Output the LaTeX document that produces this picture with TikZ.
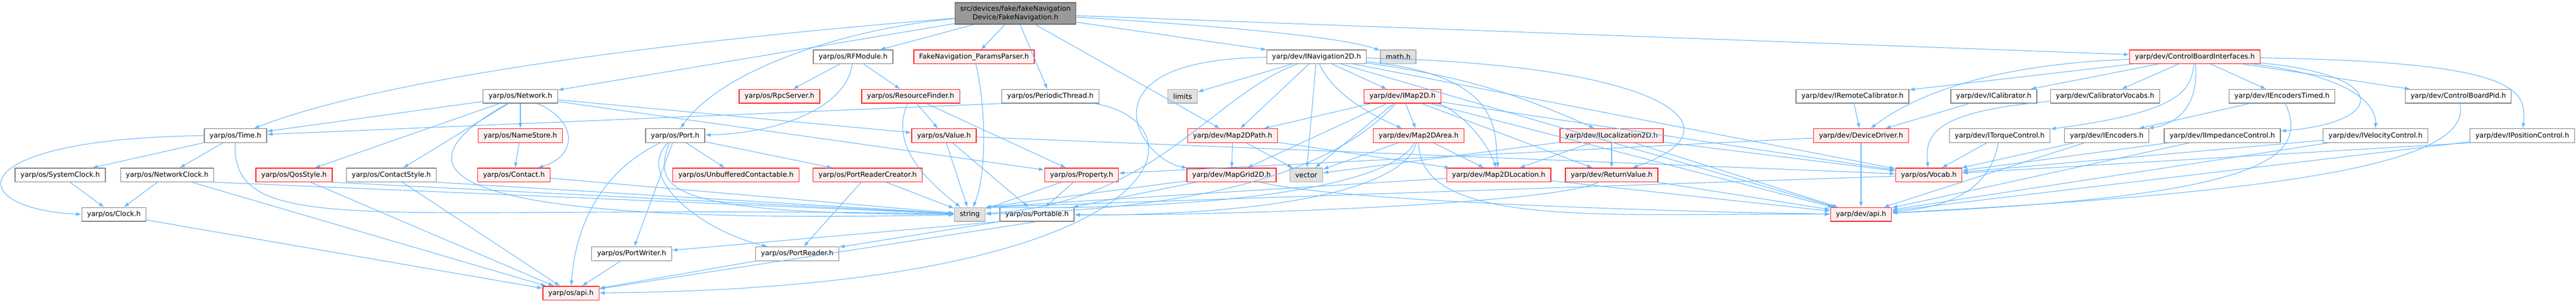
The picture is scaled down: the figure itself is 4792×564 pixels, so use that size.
\documentclass[tikz,border=0pt]{standalone}
\usepackage{fontspec}
\setmainfont{DejaVu Sans}
\usepackage{xcolor}
\usetikzlibrary{arrows.meta}
\definecolor{e1}{HTML}{63B8FF}
\definecolor{r1}{HTML}{FF1A1A}
\definecolor{p1}{HTML}{FFF0F0}
\definecolor{g1}{HTML}{999999}
\definecolor{g2}{HTML}{E0E0E0}
\definecolor{g3}{HTML}{666666}
\definecolor{g4}{HTML}{808080}
\tikzstyle{hdr}=[draw=g4,fill=white,line width=1.3pt,minimum height=25.5pt,inner xsep=10pt,inner ysep=0pt,font=\fontsize{12.9}{15.4}\selectfont]
\tikzstyle{red hdr}=[hdr,draw=r1,fill=p1]
\tikzstyle{sys hdr}=[hdr,draw=g1!80,fill=g2]
\tikzstyle{main hdr}=[hdr,draw=g3,fill=g1,align=center,minimum height=40pt]
\tikzstyle{incl}=[e1,line width=1.1pt,-{Latex[length=10pt,width=7pt]}]

\begin{document}
\begin{tikzpicture}[x=1pt,y=-1pt]
  \useasboundingbox (0,0) rectangle (4792,564);
  \def\ya{105.9}
  \def\yb{179.2}
  \def\yc{252.5}
  \def\yd{325.8}
  \def\ye{399.1}
  \def\yf{472.4}
  \def\yg{545.7}
  \node[main hdr] (main) at (1889,25) {src/devices/fake/fakeNavigation\\Device/FakeNavigation.h};
  % row 1
  \node[hdr] (rfmod) at (1587,\ya) {yarp/os/RFModule.h};
  \node[red hdr] (params) at (1812,\ya) {FakeNavigation\_ParamsParser.h};
  \node[hdr] (inav) at (2449,\ya) {yarp/dev/INavigation2D.h};
  \node[sys hdr] (mathh) at (2601,\ya) {math.h};
  \node[red hdr] (cbi) at (4083,\ya) {yarp/dev/ControlBoardInterfaces.h};
  % row 2
  \node[hdr] (network) at (968,\yb) {yarp/os/Network.h};
  \node[red hdr] (rpc) at (1450,\yb) {yarp/os/RpcServer.h};
  \node[red hdr] (resfind) at (1694,\yb) {yarp/os/ResourceFinder.h};
  \node[hdr] (periodic) at (1954,\yb) {yarp/os/PeriodicThread.h};
  \node[sys hdr] (limits) at (2200,\yb) {limits};
  \node[red hdr] (imap) at (2609,\yb) {yarp/dev/IMap2D.h};
  \node[hdr] (iremcal) at (3446,\yb) {yarp/dev/IRemoteCalibrator.h};
  \node[hdr] (ical) at (3709,\yb) {yarp/dev/ICalibrator.h};
  \node[hdr] (calvoc) at (3916,\yb) {yarp/dev/CalibratorVocabs.h};
  \node[hdr] (enctimed) at (4245,\yb) {yarp/dev/IEncodersTimed.h};
  \node[hdr] (cbpid) at (4573,\yb) {yarp/dev/ControlBoardPid.h};
  % row 3
  \node[hdr] (time) at (438,\yc) {yarp/os/Time.h};
  \node[red hdr] (namestore) at (968,\yc) {yarp/os/NameStore.h};
  \node[hdr] (port) at (1256,\yc) {yarp/os/Port.h};
  \node[red hdr] (value) at (1756,\yc) {yarp/os/Value.h};
  \node[red hdr] (mappath) at (2293,\yc) {yarp/dev/Map2DPath.h};
  \node[red hdr] (maparea) at (2639,\yc) {yarp/dev/Map2DArea.h};
  \node[red hdr] (iloc) at (2998,\yc) {yarp/dev/ILocalization2D.h};
  \node[red hdr] (devdriver) at (3462,\yc) {yarp/dev/DeviceDriver.h};
  \node[hdr] (itorque) at (3720,\yc) {yarp/dev/ITorqueControl.h};
  \node[hdr] (iencoders) at (3919,\yc) {yarp/dev/IEncoders.h};
  \node[hdr] (iimped) at (4134,\yc) {yarp/dev/IImpedanceControl.h};
  \node[hdr] (ivel) at (4419,\yc) {yarp/dev/IVelocityControl.h};
  \node[hdr] (ipos) at (4692,\yc) {yarp/dev/IPositionControl.h};
  % row 4
  \node[hdr] (sysclock) at (112,\yd) {yarp/os/SystemClock.h};
  \node[hdr] (netclock) at (311,\yd) {yarp/os/NetworkClock.h};
  \node[red hdr] (qos) at (547,\yd) {yarp/os/QosStyle.h};
  \node[hdr] (contactstyle) at (728,\yd) {yarp/os/ContactStyle.h};
  \node[red hdr] (contact) at (956,\yd) {yarp/os/Contact.h};
  \node[red hdr] (unbuf) at (1369,\yd) {yarp/os/UnbufferedContactable.h};
  \node[red hdr] (prcreator) at (1614,\yd) {yarp/os/PortReaderCreator.h};
  \node[red hdr] (property) at (2012,\yd) {yarp/os/Property.h};
  \node[red hdr] (mapgrid) at (2291,\yd) {yarp/dev/MapGrid2D.h};
  \node[sys hdr] (vector) at (2430,\yd) {vector};
  \node[red hdr] (maploc) at (2788,\yd) {yarp/dev/Map2DLocation.h};
  \node[red hdr] (retval) at (2998,\yd) {yarp/dev/ReturnValue.h};
  \node[red hdr] (vocab) at (3588,\yd) {yarp/os/Vocab.h};
  % row 5
  \node[hdr] (clock) at (212,\ye) {yarp/os/Clock.h};
  \node[sys hdr] (string) at (1804,\ye) {string};
  \node[hdr] (portable) at (1929,\ye) {yarp/os/Portable.h};
  \node[red hdr] (devapi) at (3462,\ye) {yarp/dev/api.h};
  % rows 6 and 7
  \node[hdr] (portwriter) at (1175,\yf) {yarp/os/PortWriter.h};
  \node[hdr] (portreader) at (1483,\yf) {yarp/os/PortReader.h};
  \node[red hdr] (osapi) at (1062,\yg) {yarp/os/api.h};

  % FakeNavigation.h
  \foreach \t in {network,rfmod,params,periodic,mappath,inav,cbi}
    \draw[incl] (main) -- (\t);
  \draw[incl] (main) .. controls (1200,80) and (700,150) .. (time);
  \draw[incl] (main) .. controls (1600,50) and (1350,120) .. (port);
  \draw[incl] (main) .. controls (2300,50) and (2500,70) .. (mathh);
  % yarp/os
  \foreach \t in {time,qos,contactstyle,namestore,value,property}
    \draw[incl] (network) -- (\t);
  \draw[incl] (network) .. controls (1075,225) and (1075,290) .. (contact);
  \draw[incl] (network) .. controls (700,330) and (850,420) .. (string);
  \draw[incl] (time) -- (sysclock);
  \draw[incl] (time) -- (netclock);
  \draw[incl] (time.west) .. controls (-80,258) and (-70,388) .. (clock.west);
  \draw[incl] (time) .. controls (430,450) and (700,378) .. (string);
  \draw[incl] (sysclock) -- (clock);
  \draw[incl] (netclock) -- (clock);
  \draw[incl] (netclock) -- (osapi);
  \draw[incl] (netclock.south east) -- (string);
  \draw[incl] (clock) -- (osapi);
  \draw[incl] (qos) -- (osapi);
  \draw[incl] (qos.south east) -- (string);
  \draw[incl] (contactstyle) -- (osapi);
  \draw[incl] (contactstyle.south east) -- (string);
  \draw[incl] (namestore) -- (contact);
  \draw[incl] (contact) -- (string);
  \draw[incl] (rfmod) -- (rpc);
  \draw[incl] (rfmod) -- (resfind);
  \draw[incl] (rfmod) .. controls (1575,200) and (1450,248) .. (port);
  \foreach \t in {portwriter,unbuf,prcreator}
    \draw[incl] (port) -- (\t);
  \draw[incl] (port) .. controls (1120,318) and (1070,418) .. (osapi);
  \draw[incl] (port) .. controls (1180,328) and (1300,428) .. (portreader);
  \draw[incl] ([xshift=45pt]port.south west) .. controls (1210,358) and (1250,398) .. (string);
  \draw[incl] (prcreator) -- (portreader);
  \draw[incl] (prcreator) -- (string);
  \draw[incl] (portwriter) -- (osapi);
  \draw[incl] (portreader) -- (osapi);
  \draw[incl] (portable.south west) -- (portwriter);
  \draw[incl] (portable.south west) -- (portreader);
  \draw[incl] (portable.south) -- (osapi);
  \draw[incl] (params) .. controls (1835,200) and (1835,328) .. (string);
  \draw[incl] (resfind) -- (value);
  \draw[incl] (resfind) -- (property);
  \draw[incl] (resfind) .. controls (1660,258) and (1700,318) .. (string);
  \draw[incl] (periodic.south west) -- (time);
  \draw[incl] (periodic) .. controls (2250,228) and (2200,536) .. (osapi);
  \foreach \t in {string,portable,vocab}
    \draw[incl] (value) -- (\t);
  \draw[incl] (property) -- (string);
  \draw[incl] (property) -- (portable);
  % yarp/dev navigation
  \foreach \t in {limits,mappath,vector,imap,vocab,devapi}
    \draw[incl] (inav) -- (\t);
  \draw[incl] (inav) to[bend left=8] (iloc);
  \draw[incl] (inav) .. controls (2000,110) and (2120,298) .. (mapgrid);
  \draw[incl] (inav) .. controls (2250,180) and (2150,378) .. (string);
  \draw[incl] (inav) .. controls (2480,178) and (2560,218) .. (maparea);
  \draw[incl] (inav) .. controls (2800,140) and (2780,248) .. (maploc);
  \draw[incl] (inav) .. controls (3100,120) and (3250,238) .. (retval);
  \foreach \t in {mapgrid,mappath,vector,maparea,retval,vocab,devapi}
    \draw[incl] (imap) -- (\t);
  \draw[incl] (imap) .. controls (2700,198) and (2760,248) .. (maploc);
  \draw[incl] (imap) .. controls (2500,298) and (2300,388) .. (string);
  \foreach \t in {mapgrid,vector,maploc}
    \draw[incl] (mappath) -- (\t);
  \draw[incl] (mapgrid) -- (string.north east);
  \draw[incl] (mapgrid) -- (portable);
  \draw[incl] (mapgrid) .. controls (2500,378) and (3200,396) .. (devapi);
  \draw[incl] (maparea) -- (vector);
  \draw[incl] (maparea) -- (maploc);
  \draw[incl] (maparea) .. controls (2580,358) and (2200,392) .. (string.north east);
  \draw[incl] (maparea) .. controls (2600,383) and (2200,402) .. (portable);
  \draw[incl] (maparea) .. controls (2640,428) and (3000,396) .. (devapi);
  \foreach \t in {maploc,retval,vector,vocab,devapi}
    \draw[incl] (iloc) -- (\t);
  \draw[incl] (maploc) -- (string.north east);
  \draw[incl] (maploc) -- (devapi);
  \draw[incl] (retval) .. controls (2900,378) and (2300,402) .. (portable);
  \draw[incl] (retval) -- (devapi);
  \draw[incl] (devdriver) -- (property);
  \draw[incl] (devdriver) -- (devapi);
  \draw[incl] (vocab) -- (string.north east);
  % yarp/dev control board
  \foreach \t in {iremcal,ical,calvoc,enctimed,cbpid}
    \draw[incl] (cbi) -- (\t);
  \draw[incl] (cbi) .. controls (3700,120) and (3560,178) .. (devdriver);
  \draw[incl] (cbi) .. controls (4075,168) and (4060,208) .. (itorque);
  \draw[incl] (cbi) .. controls (4090,188) and (4060,228) .. (iencoders);
  \draw[incl] (cbi) .. controls (4450,140) and (4440,228) .. (iimped);
  \draw[incl] (cbi) .. controls (4360,140) and (4420,188) .. (ivel);
  \draw[incl] (cbi) .. controls (4690,115) and (4700,168) .. (ipos);
  \draw[incl] (iremcal) -- (devdriver);
  \draw[incl] (ical) -- (devdriver);
  \draw[incl] (calvoc) .. controls (3600,208) and (3580,248) .. (vocab);
  \draw[incl] (itorque) -- (vocab);
  \draw[incl] (itorque) .. controls (3700,358) and (3620,386) .. (devapi);
  \draw[incl] (iencoders) -- (vocab);
  \draw[incl] (iencoders) -- (devapi);
  \draw[incl] (enctimed) -- (iencoders);
  \draw[incl] (enctimed) .. controls (4300,298) and (4200,366) .. (devapi);
  \draw[incl] (cbpid) .. controls (4600,298) and (4300,356) .. (devapi);
  \foreach \t in {iimped,ivel}
    \draw[incl] (\t) -- (vocab);
  \foreach \t in {iimped,ivel,ipos}
    \draw[incl] (\t) -- (devapi);
  \draw[incl] (ipos.south west) -- (vocab);
\end{tikzpicture}
\end{document}
